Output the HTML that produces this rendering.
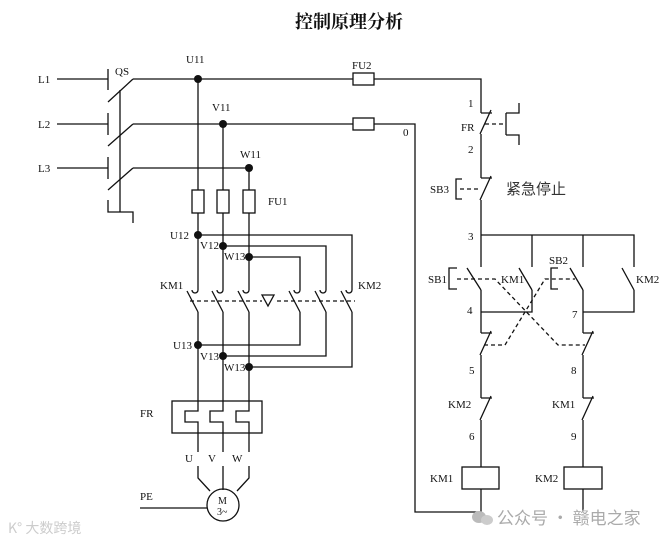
<!DOCTYPE html>
<html><head><meta charset="utf-8"><style>
html,body{margin:0;padding:0;background:#fff;}
svg{display:block;}
text{font-family:"Liberation Serif","Noto Serif CJK SC",serif;font-size:11px;fill:#111;}
.s{fill:none;stroke:#111;stroke-width:1.3;}
.d{fill:none;stroke:#111;stroke-width:1.3;stroke-dasharray:4,3;}
</style></head><body>
<svg width="670" height="542" viewBox="0 0 670 542" xmlns="http://www.w3.org/2000/svg">
<text x="349" y="28" text-anchor="middle" style="font-size:18px;font-weight:bold;font-family:'Noto Serif CJK SC',serif">控制原理分析</text>

<text x="38" y="83">L1</text><text x="38" y="128">L2</text><text x="38" y="172">L3</text>
<text x="115" y="75">QS</text>
<g class="s">
<path d="M57,79H108M57,124H108M57,168H108"/>
<path d="M108,69V90M108,113V135M108,157V179M108,200V212H133V223"/>
<path d="M108,102L133,79M108,146L133,124M108,190L133,168"/>
<path d="M120,90V212"/>
<path d="M133,79H353M374,79H481V98"/>
<path d="M133,124H353M374,124H415V512H481"/>
<path d="M133,168H249"/>
<rect x="353" y="73" width="21" height="12"/>
<rect x="353" y="118" width="21" height="12"/>
<path d="M198,79V190M198,213V286M223,124V190M223,213V286M249,168V190M249,213V286"/>
<rect x="192" y="190" width="12" height="23"/><rect x="217" y="190" width="12" height="23"/><rect x="243" y="190" width="12" height="23"/>
<path d="M198,235H352V286M223,246H326V286M249,257H300V286"/>
<path d="M198,286v4a3,3 0 0 1 -6,0M223,286v4a3,3 0 0 1 -6,0M249,286v4a3,3 0 0 1 -6,0M300,286v4a3,3 0 0 1 -6,0M326,286v4a3,3 0 0 1 -6,0M352,286v4a3,3 0 0 1 -6,0"/>
<path d="M187,291L198,312M212,291L223,312M238,291L249,312M289,291L300,312M315,291L326,312M341,291L352,312"/>
<path d="M198,312V411H185V422H198V478L210,491M223,312V411H210V422H223V490M249,312V411H236V422H249V478L237,491"/>
<path d="M198,345H300V312M223,356H326V312M249,367H352V312"/>
<rect x="172" y="401" width="90" height="32"/>
<polygon points="262,295 274,295 268,306"/>
<ellipse cx="223" cy="505" rx="16" ry="16"/>
<path d="M140,508H207"/>
</g>
<path class="d" d="M190,301H262M277,301H355"/>
<g fill="#111">
<circle cx="198" cy="79" r="4"/><circle cx="223" cy="124" r="4"/><circle cx="249" cy="168" r="4"/>
<circle cx="198" cy="235" r="4"/><circle cx="223" cy="246" r="4"/><circle cx="249" cy="257" r="4"/>
<circle cx="198" cy="345" r="4"/><circle cx="223" cy="356" r="4"/><circle cx="249" cy="367" r="4"/>
</g>
<rect x="180" y="452" width="80" height="14" fill="#fff"/>
<text x="186" y="63">U11</text><text x="212" y="111">V11</text><text x="240" y="158">W11</text>
<text x="268" y="205">FU1</text><text x="352" y="69">FU2</text><text x="403" y="136">0</text>
<text x="170" y="239">U12</text><text x="200" y="249">V12</text><text x="224" y="260">W13</text>
<text x="160" y="289">KM1</text><text x="358" y="289">KM2</text>
<text x="173" y="349">U13</text><text x="200" y="360">V13</text><text x="224" y="371">W13</text>
<text x="140" y="417">FR</text>
<text x="185" y="462">U</text><text x="208" y="462">V</text><text x="232" y="462">W</text>
<text x="140" y="500">PE</text>
<text x="218" y="504" style="font-size:10px">M</text><text x="217" y="515" style="font-size:10px">3~</text>

<g class="s">
<path d="M481,98V113M481,113H492M480,134L491,110M481,134V178M481,178H492M480,200L491,176M481,200V267"/>
<path d="M506,113V135M506,113H519V103M506,135H519V145"/>
<path d="M462,179H456V199H462"/>
<path d="M481,235H634V267M532,235V267M583,235V267"/>
<path d="M467,268L481,290M519,268L532,290M570,268L583,290M622,268L634,290"/>
<path d="M457,268H449V289H457M558,268H551V289H558"/>
<path d="M481,290V333M532,290V312H481M583,290V333M634,290V312H583"/>
<path d="M481,333H492M480,355L491,331M481,355V398M481,398H492M480,420L491,396M481,420V467M481,489V512"/>
<path d="M583,333H594M582,355L593,331M583,355V398M583,398H594M582,420L593,396M583,420V467M583,489V511"/>
<rect x="462" y="467" width="37" height="22"/>
<rect x="564" y="467" width="38" height="22"/>
</g>
<path class="d" d="M485,124H506M460,189H481M457,279H495L558,345H585M484,345H505L545,279H575"/>
<text x="468" y="107">1</text><text x="461" y="131">FR</text><text x="468" y="153">2</text>
<text x="430" y="193">SB3</text>
<text x="506" y="194" style="font-family:'Noto Sans CJK SC',sans-serif;font-size:15px;fill:#333">紧急停止</text>
<text x="468" y="240">3</text>
<text x="428" y="283">SB1</text><text x="501" y="283">KM1</text><text x="549" y="264">SB2</text><text x="636" y="283">KM2</text>
<text x="467" y="314">4</text><text x="572" y="318">7</text>
<text x="469" y="374">5</text><text x="571" y="374">8</text>
<text x="448" y="408">KM2</text><text x="552" y="408">KM1</text>
<text x="469" y="440">6</text><text x="571" y="440">9</text>
<text x="430" y="482">KM1</text><text x="535" y="482">KM2</text>

<ellipse cx="479" cy="517" rx="7" ry="6" fill="#bbb"/><ellipse cx="487" cy="520" rx="6" ry="5" fill="#ccc"/>
<text x="497" y="524" style="font-family:'Noto Sans CJK SC',sans-serif;font-size:17px;fill:#aaa">公众号 · 赣电之家</text>
<text x="8" y="533" style="font-family:'Noto Sans CJK SC',sans-serif;font-size:14px;fill:#ccc">K° 大数跨境</text>
</svg>
</body></html>
